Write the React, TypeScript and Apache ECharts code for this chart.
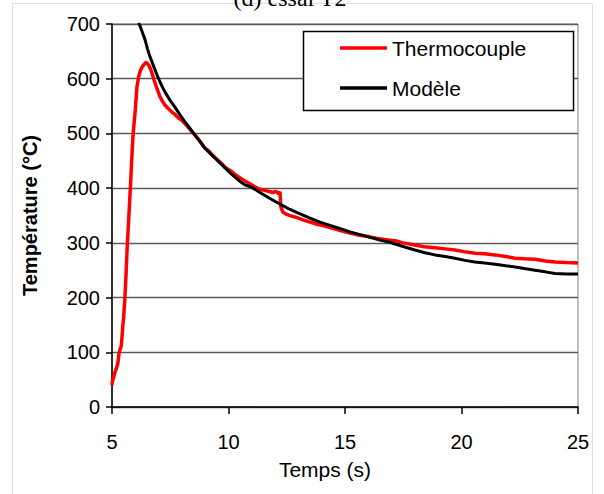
import React, { useEffect, useRef } from "react";
import * as echarts from "echarts";

const xTicks = [5, 10, 15, 20, 25];
const yTicks = [0, 100, 200, 300, 400, 500, 600, 700];

// Thermocouple measurements [time (s), temperature (°C)]
const thermocouple: [number, number][] = [
  [5.0, 40], [5.02, 48], [5.06, 52], [5.1, 60], [5.15, 66], [5.2, 72], [5.25, 80],
  [5.3, 98], [5.34, 104], [5.4, 112], [5.45, 140], [5.5, 165], [5.55, 196],
  [5.6, 240], [5.65, 290], [5.7, 330], [5.75, 370], [5.8, 410], [5.85, 455],
  [5.9, 494], [5.95, 520], [6.0, 543], [6.07, 585], [6.15, 605], [6.22, 615],
  [6.3, 622], [6.38, 626], [6.45, 630], [6.52, 628], [6.58, 624], [6.65, 618],
  [6.72, 610], [6.8, 598], [6.88, 588], [6.95, 580], [7.05, 568], [7.15, 560],
  [7.27, 552], [7.4, 546], [7.55, 540], [7.7, 535], [7.85, 528], [8.0, 524],
  [8.13, 518], [8.3, 510], [8.45, 502], [8.56, 497], [8.7, 490], [8.85, 481],
  [8.99, 473], [9.15, 468], [9.3, 461], [9.42, 456], [9.6, 449], [9.75, 443],
  [9.85, 438], [10.0, 434], [10.15, 430], [10.28, 425], [10.45, 420], [10.6, 416],
  [10.75, 412], [10.92, 408], [11.1, 403], [11.35, 398], [11.55, 396], [11.75, 394],
  [11.9, 392], [12.05, 394], [12.15, 390], [12.21, 393], [12.25, 365], [12.34, 356],
  [12.5, 352], [12.7, 349], [12.94, 346], [13.2, 342], [13.5, 338], [13.8, 334],
  [14.1, 331], [14.36, 328], [14.7, 324], [15.0, 320], [15.21, 318], [15.5, 315],
  [15.8, 313], [16.07, 311], [16.4, 308], [16.7, 306], [16.93, 305], [17.15, 304],
  [17.5, 300], [18.0, 296], [18.4, 293], [18.86, 291], [19.3, 289], [19.72, 287],
  [20.1, 284], [20.58, 281], [21.0, 280], [21.44, 278], [21.9, 275], [22.3, 272],
  [22.7, 271], [23.15, 270], [23.6, 267], [24.01, 265], [24.5, 264], [25.0, 263],
];

// Model [time (s), temperature (°C)]
const modele: [number, number][] = [
  [6.14, 702], [6.2, 697], [6.31, 684], [6.42, 671], [6.52, 655], [6.63, 640],
  [6.74, 628], [6.85, 616], [6.95, 605], [7.06, 594], [7.16, 585], [7.27, 576],
  [7.5, 560], [7.7, 548], [7.92, 534], [8.13, 521], [8.35, 509], [8.56, 497],
  [8.78, 485], [8.99, 473], [9.2, 464], [9.42, 455], [9.63, 446], [9.85, 437],
  [10.07, 428], [10.28, 420], [10.5, 412], [10.7, 406], [10.92, 403], [11.05, 400],
  [11.35, 392], [11.78, 381], [12.2, 371], [12.64, 361], [13.07, 353], [13.5, 345],
  [13.93, 338], [14.36, 332], [14.8, 326], [15.21, 320], [15.65, 315], [16.07, 310],
  [16.5, 305], [16.93, 301], [17.15, 298], [17.6, 292], [18.0, 287], [18.43, 282],
  [18.86, 278], [19.3, 275], [19.72, 272], [20.15, 268], [20.58, 265], [21.0, 263],
  [21.44, 261], [21.9, 258], [22.3, 256], [22.7, 253], [23.15, 250], [23.6, 247],
  [24.01, 244], [24.5, 243], [25.0, 243],
];

const seriesNames = ["Thermocouple", "Modèle"];
const titleText = "(d) essai T2";
const xName = "Temps (s)";
const yName = "Température (°C)";

const FONT = "'Liberation Sans', Arial, sans-serif";

export default function App() {
  const ref = useRef<HTMLDivElement>(null);
  useEffect(() => {
    if (!ref.current) return;
    const chart = echarts.init(ref.current, undefined, { renderer: "svg" });
    chart.setOption({
      animation: false,
      backgroundColor: "#ffffff",
      grid: {
        left: 112,
        right: 26,
        top: 24,
        bottom: 87,
        show: true,
        borderColor: "#808080",
        borderWidth: 1,
        backgroundColor: "transparent",
      },
      xAxis: {
        type: "value",
        min: xTicks[0],
        max: xTicks[xTicks.length - 1],
        interval: 5,
        name: xName,
        nameLocation: "middle",
        nameGap: 52,
        nameTextStyle: { fontFamily: FONT, fontSize: 21, color: "#000", padding: [0, 40, 0, 0] },
        axisLine: { show: true, onZero: false, lineStyle: { color: "#000", width: 1.5 } },
        axisTick: { show: true, length: 7, lineStyle: { color: "#000", width: 1.5 } },
        axisLabel: { fontFamily: FONT, fontSize: 20, color: "#000", margin: 25 },
        splitLine: { show: false },
      },
      yAxis: {
        type: "value",
        min: yTicks[0],
        max: yTicks[yTicks.length - 1],
        interval: 100,
        name: yName,
        nameLocation: "middle",
        nameGap: 72,
        nameTextStyle: { fontFamily: FONT, fontSize: 20, fontWeight: "bold", color: "#000" },
        axisLine: { show: true, onZero: false, lineStyle: { color: "#000", width: 1.5 } },
        axisTick: { show: true, length: 6, lineStyle: { color: "#000", width: 1.5 } },
        axisLabel: { fontFamily: FONT, fontSize: 20, color: "#000", margin: 12 },
        splitLine: { show: true, lineStyle: { color: "#5a5a5a", width: 1.3 } },
      },
      legend: {
        orient: "vertical",
        left: 340,
        top: 37,
        icon: "rect",
        itemWidth: 47,
        itemHeight: 3.5,
        itemGap: 18,
        padding: 0,
        z: 10,
        data: seriesNames,
        textStyle: { fontFamily: FONT, fontSize: 21, color: "#000", lineHeight: 22 },
      },
      graphic: [
        {
          type: "rect",
          z: 0,
          silent: true,
          shape: { x: 12.5, y: 3.5, width: 580, height: 500 },
          style: { fill: "none", stroke: "#e0e0e0", lineWidth: 1 },
        },
        {
          type: "text",
          z: 5,
          x: 290,
          y: 10,
          style: {
            text: titleText,
            font: "24px 'Liberation Serif', 'Times New Roman', serif",
            fill: "#000",
            align: "center",
            verticalAlign: "bottom",
          },
        },
        {
          type: "rect",
          z: 5,
          silent: true,
          shape: { x: 303.5, y: 31.5, width: 270, height: 79 },
          style: { fill: "#ffffff", stroke: "#000", lineWidth: 1.5 },
        },
      ],
      series: [
        {
          name: seriesNames[0],
          type: "line",
          data: thermocouple,
          symbol: "none",
          z: 3,
          lineStyle: { color: "#ff0000", width: 3.5 },
          itemStyle: { color: "#ff0000" },
        },
        {
          name: seriesNames[1],
          type: "line",
          data: modele,
          symbol: "none",
          z: 4,
          lineStyle: { color: "#000000", width: 3 },
          itemStyle: { color: "#000000" },
        },
      ],
    });
    return () => chart.dispose();
  }, []);
  return (
    <div
      ref={ref}
      style={{ position: "fixed", left: 0, top: 0, width: 604, height: 494, background: "#fff" }}
    />
  );
}
